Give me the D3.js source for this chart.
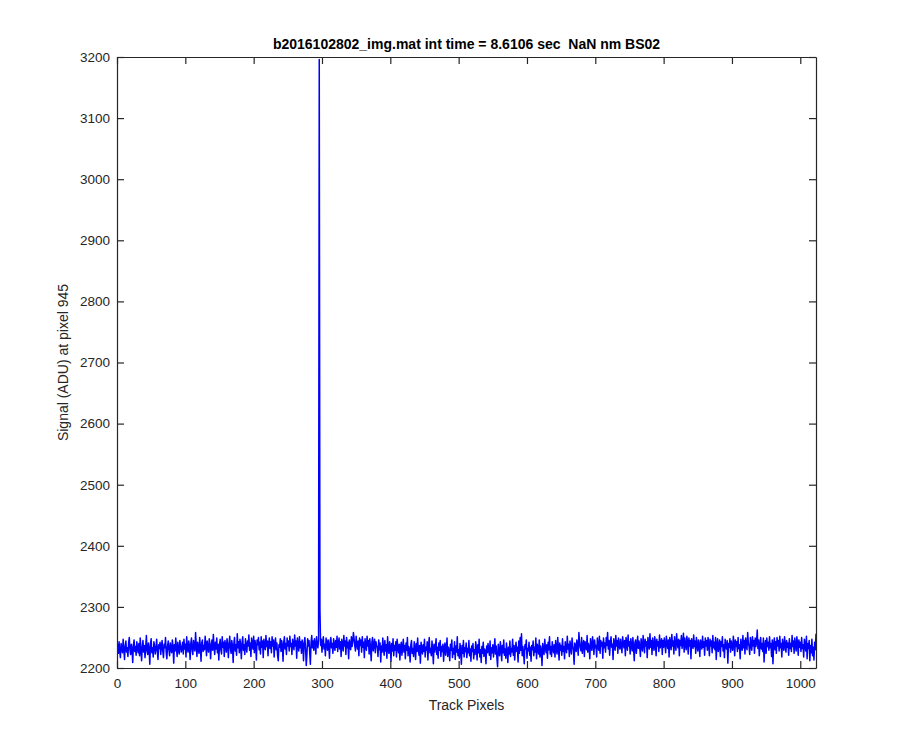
<!DOCTYPE html>
<html>
<head>
<meta charset="utf-8">
<script src="https://cdn.jsdelivr.net/npm/d3@7"></script>
<style>
  body { margin: 0; background: #fff; }
  text { font-family: "Liberation Sans", Arial, Helvetica, sans-serif; }
</style>
</head>
<body>
<div id="chart"></div>
<script>
// Chart text
let titleText = "b2016102802_img.mat int time = 8.6106 sec  NaN nm BS02";
let xLabel = "Track Pixels";
let yLabel = "Signal (ADU) at pixel 945";

// Tick values
let xTicks = [0, 100, 200, 300, 400, 500, 600, 700, 800, 900, 1000];
let yTicks = [2200, 2300, 2400, 2500, 2600, 2700, 2800, 2900, 3000, 3100, 3200];

// Signal, in blocks of 128 track pixels
let signal000 = [
2231,2238,2224,2243,2228,2217,2240,2233,2225,2247,2230,2214,2236,2244,2226,2233,2219,2241,2250,2229,2222,2239,2231,2209,2237,2246,2227,2235,2221,2243,2232,2225,
2240,2220,2249,2230,2212,2235,2245,2226,2237,2217,2233,2253,2228,2222,2241,2231,2206,2239,2248,2225,2233,2218,2243,2236,2223,2231,2247,2228,2214,2238,2232,2242,
2222,2235,2245,2228,2217,2239,2233,2250,2226,2215,2236,2244,2230,2220,2241,2231,2225,2246,2235,2208,2238,2228,2249,2232,2219,2242,2230,2223,2245,2236,2226,2233,
2242,2223,2247,2231,2239,2218,2251,2233,2226,2244,2236,2214,2240,2249,2229,2222,2245,2235,2228,2258,2238,2219,2242,2232,2224,2250,2234,2211,2241,2246,2227,2237];
let signal128 = [
2230,2252,2237,2220,2244,2233,2226,2248,2239,2215,2236,2246,2229,2255,2235,2222,2242,2231,2249,2225,2239,2213,2237,2247,2230,2223,2251,2234,2242,2219,2245,2236,
2226,2248,2238,2217,2240,2252,2232,2224,2245,2236,2209,2240,2250,2228,2238,2221,2256,2233,2243,2225,2247,2237,2215,2241,2251,2229,2238,2222,2248,2235,2226,2244,
2236,2254,2229,2241,2219,2249,2239,2231,2252,2225,2245,2236,2213,2246,2238,2250,2230,2242,2223,2251,2234,2244,2217,2247,2237,2230,2253,2235,2244,2220,2241,2249,
2232,2243,2225,2251,2236,2246,2218,2239,2249,2230,2241,2221,2212,2238,2234,2248,2227,2245,2237,2211,2242,2251,2231,2240,2222,2249,2236,2244,2228,2252,2235,2240];
let signal256 = [
2222,2247,2239,2230,2254,2236,2244,2216,2249,2237,2228,2251,2233,2243,2224,2246,2238,2212,2242,2250,2231,2204,2223,2248,2236,2245,2226,2206,2242,2253,2233,2244,
2229,2248,2238,2223,2251,2240,2233,2245,3196,2296,2237,2247,2226,2242,2251,2231,2239,2220,2249,2241,2229,2246,2236,2216,2244,2250,2233,2240,2224,2248,2237,2229,
2245,2234,2252,2227,2240,2249,2231,2243,2219,2247,2237,2228,2253,2236,2244,2222,2250,2233,2242,2215,2246,2238,2230,2251,2235,2243,2258,2248,2236,2228,2252,2240,
2231,2244,2220,2249,2237,2246,2226,2251,2234,2242,2217,2248,2239,2229,2252,2236,2245,2223,2248,2233,2212,2242,2250,2228,2238,2247,2225,2243,2236,2234,2219,2246];
let signal384 = [
2230,2241,2210,2236,2226,2249,2232,2221,2245,2228,2238,2216,2251,2231,2224,2243,2234,2211,2240,2228,2248,2220,2237,2229,2243,2218,2247,2233,2225,2239,2213,2235,
2242,2221,2234,2247,2226,2237,2215,2241,2229,2250,2220,2235,2230,2210,2238,2245,2224,2232,2219,2243,2233,2214,2240,2227,2249,2230,2221,2237,2208,2242,2232,2223,
2238,2227,2247,2218,2234,2229,2243,2213,2237,2250,2225,2232,2220,2244,2230,2207,2239,2226,2235,2248,2222,2234,2216,2241,2229,2245,2219,2235,2227,2239,2211,2233,
2241,2221,2231,2249,2219,2234,2227,2212,2239,2229,2246,2217,2232,2223,2243,2214,2236,2226,2251,2220,2230,2216,2240,2228,2206,2237,2224,2245,2218,2233,2227,2241];
let signal512 = [
2217,2232,2225,2245,2220,2231,2211,2236,2227,2240,2215,2230,2222,2243,2233,2213,2238,2225,2247,2218,2230,2209,2235,2224,2242,2219,2231,2228,2207,2236,2225,2240,
2229,2221,2244,2214,2233,2225,2238,2218,2231,2248,2223,2236,2216,2202,2239,2227,2220,2243,2233,2212,2237,2225,2246,2221,2231,2216,2241,2227,2209,2234,2223,2244,
2219,2232,2226,2247,2221,2237,2213,2231,2242,2227,2234,2210,2244,2224,2250,2229,2256,2220,2235,2225,2207,2238,2231,2246,2216,2232,2228,2242,2221,2234,2211,2237,
2230,2244,2220,2234,2226,2249,2215,2239,2232,2223,2246,2218,2236,2228,2204,2240,2231,2222,2247,2234,2225,2238,2216,2242,2230,2251,2223,2235,2219,2243,2232,2225];
let signal640 = [
2238,2218,2245,2231,2223,2250,2234,2213,2241,2229,2237,2221,2248,2227,2235,2215,2243,2232,2225,2252,2231,2239,2219,2244,2234,2223,2249,2237,2229,2206,2241,2235,
2227,2246,2237,2221,2258,2241,2233,2228,2250,2224,2238,2245,2219,2243,2235,2230,2253,2226,2240,2234,2215,2248,2237,2229,2251,2240,2222,2246,2233,2237,2218,2249,
2238,2229,2252,2224,2245,2236,2242,2216,2249,2233,2241,2226,2250,2237,2258,2231,2245,2221,2242,2251,2234,2239,2214,2248,2240,2229,2253,2236,2245,2224,2249,2237,
2231,2247,2237,2225,2251,2241,2233,2245,2220,2250,2239,2229,2254,2236,2243,2223,2248,2237,2228,2250,2233,2212,2242,2246,2224,2237,2252,2232,2244,2235,2219,2248];
let signal768 = [
2237,2228,2253,2240,2225,2247,2236,2243,2217,2250,2239,2231,2256,2234,2245,2222,2249,2237,2229,2251,2241,2220,2247,2236,2243,2227,2254,2233,2239,2248,2222,2245,
2234,2249,2238,2225,2252,2241,2232,2246,2218,2250,2239,2230,2255,2236,2244,2223,2251,2238,2229,2256,2241,2233,2247,2220,2245,2237,2253,2232,2240,2257,2226,2249,
2238,2230,2252,2241,2223,2249,2236,2245,2215,2248,2239,2232,2254,2235,2244,2224,2250,2238,2228,2246,2237,2219,2246,2240,2231,2252,2234,2243,2221,2249,2236,2245,
2229,2250,2239,2220,2247,2236,2244,2225,2253,2233,2242,2230,2250,2214,2240,2248,2227,2237,2246,2219,2243,2235,2251,2228,2238,2217,2247,2236,2231,2245,2208,2240];
let signal896 = [
2234,2248,2226,2244,2236,2229,2252,2240,2220,2246,2235,2243,2227,2250,2232,2238,2215,2247,2236,2229,2253,2233,2245,2223,2249,2237,2230,2258,2241,2235,2222,2250,
2239,2229,2251,2236,2245,2224,2249,2235,2242,2262,2232,2246,2220,2238,2250,2231,2240,2227,2249,2210,2236,2245,2224,2249,2235,2242,2229,2251,2233,2240,2219,2246,
2207,2238,2249,2230,2243,2224,2250,2236,2245,2228,2252,2233,2240,2218,2247,2236,2229,2251,2238,2226,2245,2234,2241,2221,2248,2232,2240,2227,2253,2235,2244,2224,
2249,2236,2228,2251,2240,2221,2246,2234,2242,2227,2250,2232,2238,2218,2247,2236,2228,2252,2215,2240,2232,2245,2212,2237,2225,2247,2220,2234,2213,2242,2230,2256];

let signal = [].concat(signal000, signal128, signal256, signal384,
                       signal512, signal640, signal768, signal896);

// svg attributes
let svgWidth = 900;
let svgHeight = 750;
let boxLeft = 117, boxRight = 816, boxTop = 57, boxBottom = 668;
let axisColor = "#262626";

let svg = d3.select("#chart")
  .append("svg")
  .attr("width", svgWidth)
  .attr("height", svgHeight);

svg.append("rect")
  .attr("width", svgWidth)
  .attr("height", svgHeight)
  .attr("fill", "#fff");

let xScale = d3.scaleLinear()
  .domain([0, signal.length - 1])
  .range([boxLeft, boxRight]);

let yScale = d3.scaleLinear()
  .domain([2200, 3200])
  .range([boxBottom, boxTop]);

// clip the trace to the axes box
svg.append("clipPath")
  .attr("id", "box")
  .append("rect")
  .attr("x", boxLeft)
  .attr("y", boxTop)
  .attr("width", boxRight - boxLeft)
  .attr("height", boxBottom - boxTop);

let line = d3.line()
  .x((d, i) => xScale(i))
  .y(d => yScale(d));

svg.append("path")
  .datum(signal)
  .attr("clip-path", "url(#box)")
  .attr("fill", "none")
  .attr("stroke", "#0000ff")
  .attr("stroke-width", 1.5)
  .attr("stroke-linejoin", "round")
  .attr("d", line);

// four axes, ticks pointing inward (matlab style)
function styleAxis(g) {
  g.select(".domain").attr("stroke", axisColor).attr("stroke-width", 1.2);
  g.selectAll(".tick line").attr("stroke", axisColor).attr("stroke-width", 1.2);
  g.selectAll(".tick text")
    .attr("fill", axisColor)
    .style("font-size", "13.5px")
    .style("font-family", "'Liberation Sans', Arial, sans-serif");
}

let fmt = d3.format("d");

svg.append("g")
  .attr("transform", `translate(0,${boxBottom})`)
  .call(d3.axisBottom(xScale).tickValues(xTicks).tickFormat(fmt)
    .tickSizeInner(-7).tickSizeOuter(0).tickPadding(10))
  .call(styleAxis);

svg.append("g")
  .attr("transform", `translate(0,${boxTop})`)
  .call(d3.axisTop(xScale).tickValues(xTicks).tickSizeInner(-7).tickSizeOuter(0).tickFormat(""))
  .call(styleAxis);

svg.append("g")
  .attr("transform", `translate(${boxLeft},0)`)
  .call(d3.axisLeft(yScale).tickValues(yTicks).tickFormat(fmt)
    .tickSizeInner(-7).tickSizeOuter(0).tickPadding(7))
  .call(styleAxis);

svg.append("g")
  .attr("transform", `translate(${boxRight},0)`)
  .call(d3.axisRight(yScale).tickValues(yTicks).tickSizeInner(-7).tickSizeOuter(0).tickFormat(""))
  .call(styleAxis);

// labels
svg.append("text")
  .attr("x", (boxLeft + boxRight) / 2)
  .attr("y", 710)
  .attr("text-anchor", "middle")
  .attr("fill", axisColor)
  .style("font-size", "14px")
  .text(xLabel);

svg.append("text")
  .attr("transform", `translate(68,${(boxTop + boxBottom) / 2}) rotate(-90)`)
  .attr("text-anchor", "middle")
  .attr("fill", axisColor)
  .style("font-size", "14px")
  .text(yLabel);

svg.append("text")
  .attr("x", (boxLeft + boxRight) / 2)
  .attr("y", 49)
  .attr("text-anchor", "middle")
  .attr("fill", "#000")
  .attr("font-weight", "bold")
  .style("font-size", "14px")
  .style("white-space", "pre")
  .text(titleText);
</script>
</body>
</html>
